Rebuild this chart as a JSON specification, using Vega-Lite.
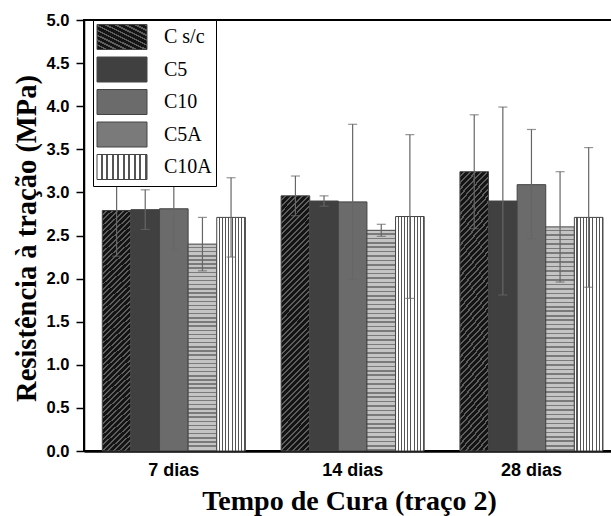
{
  "$schema": "https://vega.github.io/schema/vega-lite/v6.json",
  "width": 528,
  "height": 431,
  "autosize": {"type": "none"},
  "padding": {"left": 84, "top": 20, "right": 0, "bottom": 65},
  "background": "white",
  "config": {
    "view": {"stroke": "black", "strokeWidth": 2},
    "axis": {"grid": false}
  },
  "params": [
    {"name": "gCsc", "value": {"gradient": "linear", "x1": 0, "y1": 0, "x2": 0.124, "y2": 1.1, "stops": [
      {"offset":0,"color":"#141414"},{"offset":0.013,"color":"#141414"},{"offset":0.013,"color":"#5e5e5e"},{"offset":0.02,"color":"#5e5e5e"},
      {"offset":0.02,"color":"#141414"},{"offset":0.033,"color":"#141414"},{"offset":0.033,"color":"#5e5e5e"},{"offset":0.04,"color":"#5e5e5e"},
      {"offset":0.04,"color":"#141414"},{"offset":0.053,"color":"#141414"},{"offset":0.053,"color":"#5e5e5e"},{"offset":0.06,"color":"#5e5e5e"},
      {"offset":0.06,"color":"#141414"},{"offset":0.073,"color":"#141414"},{"offset":0.073,"color":"#5e5e5e"},{"offset":0.08,"color":"#5e5e5e"},
      {"offset":0.08,"color":"#141414"},{"offset":0.093,"color":"#141414"},{"offset":0.093,"color":"#5e5e5e"},{"offset":0.1,"color":"#5e5e5e"},
      {"offset":0.1,"color":"#141414"},{"offset":0.113,"color":"#141414"},{"offset":0.113,"color":"#5e5e5e"},{"offset":0.12,"color":"#5e5e5e"},
      {"offset":0.12,"color":"#141414"},{"offset":0.133,"color":"#141414"},{"offset":0.133,"color":"#5e5e5e"},{"offset":0.14,"color":"#5e5e5e"},
      {"offset":0.14,"color":"#141414"},{"offset":0.153,"color":"#141414"},{"offset":0.153,"color":"#5e5e5e"},{"offset":0.16,"color":"#5e5e5e"},
      {"offset":0.16,"color":"#141414"},{"offset":0.173,"color":"#141414"},{"offset":0.173,"color":"#5e5e5e"},{"offset":0.18,"color":"#5e5e5e"},
      {"offset":0.18,"color":"#141414"},{"offset":0.193,"color":"#141414"},{"offset":0.193,"color":"#5e5e5e"},{"offset":0.2,"color":"#5e5e5e"},
      {"offset":0.2,"color":"#141414"},{"offset":0.213,"color":"#141414"},{"offset":0.213,"color":"#5e5e5e"},{"offset":0.22,"color":"#5e5e5e"},
      {"offset":0.22,"color":"#141414"},{"offset":0.233,"color":"#141414"},{"offset":0.233,"color":"#5e5e5e"},{"offset":0.24,"color":"#5e5e5e"},
      {"offset":0.24,"color":"#141414"},{"offset":0.253,"color":"#141414"},{"offset":0.253,"color":"#5e5e5e"},{"offset":0.26,"color":"#5e5e5e"},
      {"offset":0.26,"color":"#141414"},{"offset":0.273,"color":"#141414"},{"offset":0.273,"color":"#5e5e5e"},{"offset":0.28,"color":"#5e5e5e"},
      {"offset":0.28,"color":"#141414"},{"offset":0.293,"color":"#141414"},{"offset":0.293,"color":"#5e5e5e"},{"offset":0.3,"color":"#5e5e5e"},
      {"offset":0.3,"color":"#141414"},{"offset":0.313,"color":"#141414"},{"offset":0.313,"color":"#5e5e5e"},{"offset":0.32,"color":"#5e5e5e"},
      {"offset":0.32,"color":"#141414"},{"offset":0.333,"color":"#141414"},{"offset":0.333,"color":"#5e5e5e"},{"offset":0.34,"color":"#5e5e5e"},
      {"offset":0.34,"color":"#141414"},{"offset":0.353,"color":"#141414"},{"offset":0.353,"color":"#5e5e5e"},{"offset":0.36,"color":"#5e5e5e"},
      {"offset":0.36,"color":"#141414"},{"offset":0.373,"color":"#141414"},{"offset":0.373,"color":"#5e5e5e"},{"offset":0.38,"color":"#5e5e5e"},
      {"offset":0.38,"color":"#141414"},{"offset":0.393,"color":"#141414"},{"offset":0.393,"color":"#5e5e5e"},{"offset":0.4,"color":"#5e5e5e"},
      {"offset":0.4,"color":"#141414"},{"offset":0.413,"color":"#141414"},{"offset":0.413,"color":"#5e5e5e"},{"offset":0.42,"color":"#5e5e5e"},
      {"offset":0.42,"color":"#141414"},{"offset":0.433,"color":"#141414"},{"offset":0.433,"color":"#5e5e5e"},{"offset":0.44,"color":"#5e5e5e"},
      {"offset":0.44,"color":"#141414"},{"offset":0.453,"color":"#141414"},{"offset":0.453,"color":"#5e5e5e"},{"offset":0.46,"color":"#5e5e5e"},
      {"offset":0.46,"color":"#141414"},{"offset":0.473,"color":"#141414"},{"offset":0.473,"color":"#5e5e5e"},{"offset":0.48,"color":"#5e5e5e"},
      {"offset":0.48,"color":"#141414"},{"offset":0.493,"color":"#141414"},{"offset":0.493,"color":"#5e5e5e"},{"offset":0.5,"color":"#5e5e5e"},
      {"offset":0.5,"color":"#141414"},{"offset":0.513,"color":"#141414"},{"offset":0.513,"color":"#5e5e5e"},{"offset":0.52,"color":"#5e5e5e"},
      {"offset":0.52,"color":"#141414"},{"offset":0.533,"color":"#141414"},{"offset":0.533,"color":"#5e5e5e"},{"offset":0.54,"color":"#5e5e5e"},
      {"offset":0.54,"color":"#141414"},{"offset":0.553,"color":"#141414"},{"offset":0.553,"color":"#5e5e5e"},{"offset":0.56,"color":"#5e5e5e"},
      {"offset":0.56,"color":"#141414"},{"offset":0.573,"color":"#141414"},{"offset":0.573,"color":"#5e5e5e"},{"offset":0.58,"color":"#5e5e5e"},
      {"offset":0.58,"color":"#141414"},{"offset":0.593,"color":"#141414"},{"offset":0.593,"color":"#5e5e5e"},{"offset":0.6,"color":"#5e5e5e"},
      {"offset":0.6,"color":"#141414"},{"offset":0.613,"color":"#141414"},{"offset":0.613,"color":"#5e5e5e"},{"offset":0.62,"color":"#5e5e5e"},
      {"offset":0.62,"color":"#141414"},{"offset":0.633,"color":"#141414"},{"offset":0.633,"color":"#5e5e5e"},{"offset":0.64,"color":"#5e5e5e"},
      {"offset":0.64,"color":"#141414"},{"offset":0.653,"color":"#141414"},{"offset":0.653,"color":"#5e5e5e"},{"offset":0.66,"color":"#5e5e5e"},
      {"offset":0.66,"color":"#141414"},{"offset":0.673,"color":"#141414"},{"offset":0.673,"color":"#5e5e5e"},{"offset":0.68,"color":"#5e5e5e"},
      {"offset":0.68,"color":"#141414"},{"offset":0.693,"color":"#141414"},{"offset":0.693,"color":"#5e5e5e"},{"offset":0.7,"color":"#5e5e5e"},
      {"offset":0.7,"color":"#141414"},{"offset":0.713,"color":"#141414"},{"offset":0.713,"color":"#5e5e5e"},{"offset":0.72,"color":"#5e5e5e"},
      {"offset":0.72,"color":"#141414"},{"offset":0.733,"color":"#141414"},{"offset":0.733,"color":"#5e5e5e"},{"offset":0.74,"color":"#5e5e5e"},
      {"offset":0.74,"color":"#141414"},{"offset":0.753,"color":"#141414"},{"offset":0.753,"color":"#5e5e5e"},{"offset":0.76,"color":"#5e5e5e"},
      {"offset":0.76,"color":"#141414"},{"offset":0.773,"color":"#141414"},{"offset":0.773,"color":"#5e5e5e"},{"offset":0.78,"color":"#5e5e5e"},
      {"offset":0.78,"color":"#141414"},{"offset":0.793,"color":"#141414"},{"offset":0.793,"color":"#5e5e5e"},{"offset":0.8,"color":"#5e5e5e"},
      {"offset":0.8,"color":"#141414"},{"offset":0.813,"color":"#141414"},{"offset":0.813,"color":"#5e5e5e"},{"offset":0.82,"color":"#5e5e5e"},
      {"offset":0.82,"color":"#141414"},{"offset":0.833,"color":"#141414"},{"offset":0.833,"color":"#5e5e5e"},{"offset":0.84,"color":"#5e5e5e"},
      {"offset":0.84,"color":"#141414"},{"offset":0.853,"color":"#141414"},{"offset":0.853,"color":"#5e5e5e"},{"offset":0.86,"color":"#5e5e5e"},
      {"offset":0.86,"color":"#141414"},{"offset":0.873,"color":"#141414"},{"offset":0.873,"color":"#5e5e5e"},{"offset":0.88,"color":"#5e5e5e"},
      {"offset":0.88,"color":"#141414"},{"offset":0.893,"color":"#141414"},{"offset":0.893,"color":"#5e5e5e"},{"offset":0.9,"color":"#5e5e5e"},
      {"offset":0.9,"color":"#141414"},{"offset":0.913,"color":"#141414"},{"offset":0.913,"color":"#5e5e5e"},{"offset":0.92,"color":"#5e5e5e"},
      {"offset":0.92,"color":"#141414"},{"offset":0.933,"color":"#141414"},{"offset":0.933,"color":"#5e5e5e"},{"offset":0.94,"color":"#5e5e5e"},
      {"offset":0.94,"color":"#141414"},{"offset":0.953,"color":"#141414"},{"offset":0.953,"color":"#5e5e5e"},{"offset":0.96,"color":"#5e5e5e"},
      {"offset":0.96,"color":"#141414"},{"offset":0.973,"color":"#141414"},{"offset":0.973,"color":"#5e5e5e"},{"offset":0.98,"color":"#5e5e5e"},
      {"offset":0.98,"color":"#141414"},{"offset":0.993,"color":"#141414"},{"offset":0.993,"color":"#5e5e5e"},{"offset":1,"color":"#5e5e5e"}
    ]}},
    {"name": "gC5A", "value": {"gradient": "linear", "x1": 0, "y1": 0, "x2": 0, "y2": 1, "stops": [
      {"offset":0,"color":"#c4c4c4"},{"offset":0.013,"color":"#c4c4c4"},{"offset":0.013,"color":"#7a7a7a"},{"offset":0.02,"color":"#7a7a7a"},
      {"offset":0.02,"color":"#c4c4c4"},{"offset":0.033,"color":"#c4c4c4"},{"offset":0.033,"color":"#7a7a7a"},{"offset":0.04,"color":"#7a7a7a"},
      {"offset":0.04,"color":"#c4c4c4"},{"offset":0.053,"color":"#c4c4c4"},{"offset":0.053,"color":"#7a7a7a"},{"offset":0.06,"color":"#7a7a7a"},
      {"offset":0.06,"color":"#c4c4c4"},{"offset":0.073,"color":"#c4c4c4"},{"offset":0.073,"color":"#7a7a7a"},{"offset":0.08,"color":"#7a7a7a"},
      {"offset":0.08,"color":"#c4c4c4"},{"offset":0.093,"color":"#c4c4c4"},{"offset":0.093,"color":"#7a7a7a"},{"offset":0.1,"color":"#7a7a7a"},
      {"offset":0.1,"color":"#c4c4c4"},{"offset":0.113,"color":"#c4c4c4"},{"offset":0.113,"color":"#7a7a7a"},{"offset":0.12,"color":"#7a7a7a"},
      {"offset":0.12,"color":"#c4c4c4"},{"offset":0.133,"color":"#c4c4c4"},{"offset":0.133,"color":"#7a7a7a"},{"offset":0.14,"color":"#7a7a7a"},
      {"offset":0.14,"color":"#c4c4c4"},{"offset":0.153,"color":"#c4c4c4"},{"offset":0.153,"color":"#7a7a7a"},{"offset":0.16,"color":"#7a7a7a"},
      {"offset":0.16,"color":"#c4c4c4"},{"offset":0.173,"color":"#c4c4c4"},{"offset":0.173,"color":"#7a7a7a"},{"offset":0.18,"color":"#7a7a7a"},
      {"offset":0.18,"color":"#c4c4c4"},{"offset":0.193,"color":"#c4c4c4"},{"offset":0.193,"color":"#7a7a7a"},{"offset":0.2,"color":"#7a7a7a"},
      {"offset":0.2,"color":"#c4c4c4"},{"offset":0.213,"color":"#c4c4c4"},{"offset":0.213,"color":"#7a7a7a"},{"offset":0.22,"color":"#7a7a7a"},
      {"offset":0.22,"color":"#c4c4c4"},{"offset":0.233,"color":"#c4c4c4"},{"offset":0.233,"color":"#7a7a7a"},{"offset":0.24,"color":"#7a7a7a"},
      {"offset":0.24,"color":"#c4c4c4"},{"offset":0.253,"color":"#c4c4c4"},{"offset":0.253,"color":"#7a7a7a"},{"offset":0.26,"color":"#7a7a7a"},
      {"offset":0.26,"color":"#c4c4c4"},{"offset":0.273,"color":"#c4c4c4"},{"offset":0.273,"color":"#7a7a7a"},{"offset":0.28,"color":"#7a7a7a"},
      {"offset":0.28,"color":"#c4c4c4"},{"offset":0.293,"color":"#c4c4c4"},{"offset":0.293,"color":"#7a7a7a"},{"offset":0.3,"color":"#7a7a7a"},
      {"offset":0.3,"color":"#c4c4c4"},{"offset":0.313,"color":"#c4c4c4"},{"offset":0.313,"color":"#7a7a7a"},{"offset":0.32,"color":"#7a7a7a"},
      {"offset":0.32,"color":"#c4c4c4"},{"offset":0.333,"color":"#c4c4c4"},{"offset":0.333,"color":"#7a7a7a"},{"offset":0.34,"color":"#7a7a7a"},
      {"offset":0.34,"color":"#c4c4c4"},{"offset":0.353,"color":"#c4c4c4"},{"offset":0.353,"color":"#7a7a7a"},{"offset":0.36,"color":"#7a7a7a"},
      {"offset":0.36,"color":"#c4c4c4"},{"offset":0.373,"color":"#c4c4c4"},{"offset":0.373,"color":"#7a7a7a"},{"offset":0.38,"color":"#7a7a7a"},
      {"offset":0.38,"color":"#c4c4c4"},{"offset":0.393,"color":"#c4c4c4"},{"offset":0.393,"color":"#7a7a7a"},{"offset":0.4,"color":"#7a7a7a"},
      {"offset":0.4,"color":"#c4c4c4"},{"offset":0.413,"color":"#c4c4c4"},{"offset":0.413,"color":"#7a7a7a"},{"offset":0.42,"color":"#7a7a7a"},
      {"offset":0.42,"color":"#c4c4c4"},{"offset":0.433,"color":"#c4c4c4"},{"offset":0.433,"color":"#7a7a7a"},{"offset":0.44,"color":"#7a7a7a"},
      {"offset":0.44,"color":"#c4c4c4"},{"offset":0.453,"color":"#c4c4c4"},{"offset":0.453,"color":"#7a7a7a"},{"offset":0.46,"color":"#7a7a7a"},
      {"offset":0.46,"color":"#c4c4c4"},{"offset":0.473,"color":"#c4c4c4"},{"offset":0.473,"color":"#7a7a7a"},{"offset":0.48,"color":"#7a7a7a"},
      {"offset":0.48,"color":"#c4c4c4"},{"offset":0.493,"color":"#c4c4c4"},{"offset":0.493,"color":"#7a7a7a"},{"offset":0.5,"color":"#7a7a7a"},
      {"offset":0.5,"color":"#c4c4c4"},{"offset":0.513,"color":"#c4c4c4"},{"offset":0.513,"color":"#7a7a7a"},{"offset":0.52,"color":"#7a7a7a"},
      {"offset":0.52,"color":"#c4c4c4"},{"offset":0.533,"color":"#c4c4c4"},{"offset":0.533,"color":"#7a7a7a"},{"offset":0.54,"color":"#7a7a7a"},
      {"offset":0.54,"color":"#c4c4c4"},{"offset":0.553,"color":"#c4c4c4"},{"offset":0.553,"color":"#7a7a7a"},{"offset":0.56,"color":"#7a7a7a"},
      {"offset":0.56,"color":"#c4c4c4"},{"offset":0.573,"color":"#c4c4c4"},{"offset":0.573,"color":"#7a7a7a"},{"offset":0.58,"color":"#7a7a7a"},
      {"offset":0.58,"color":"#c4c4c4"},{"offset":0.593,"color":"#c4c4c4"},{"offset":0.593,"color":"#7a7a7a"},{"offset":0.6,"color":"#7a7a7a"},
      {"offset":0.6,"color":"#c4c4c4"},{"offset":0.613,"color":"#c4c4c4"},{"offset":0.613,"color":"#7a7a7a"},{"offset":0.62,"color":"#7a7a7a"},
      {"offset":0.62,"color":"#c4c4c4"},{"offset":0.633,"color":"#c4c4c4"},{"offset":0.633,"color":"#7a7a7a"},{"offset":0.64,"color":"#7a7a7a"},
      {"offset":0.64,"color":"#c4c4c4"},{"offset":0.653,"color":"#c4c4c4"},{"offset":0.653,"color":"#7a7a7a"},{"offset":0.66,"color":"#7a7a7a"},
      {"offset":0.66,"color":"#c4c4c4"},{"offset":0.673,"color":"#c4c4c4"},{"offset":0.673,"color":"#7a7a7a"},{"offset":0.68,"color":"#7a7a7a"},
      {"offset":0.68,"color":"#c4c4c4"},{"offset":0.693,"color":"#c4c4c4"},{"offset":0.693,"color":"#7a7a7a"},{"offset":0.7,"color":"#7a7a7a"},
      {"offset":0.7,"color":"#c4c4c4"},{"offset":0.713,"color":"#c4c4c4"},{"offset":0.713,"color":"#7a7a7a"},{"offset":0.72,"color":"#7a7a7a"},
      {"offset":0.72,"color":"#c4c4c4"},{"offset":0.733,"color":"#c4c4c4"},{"offset":0.733,"color":"#7a7a7a"},{"offset":0.74,"color":"#7a7a7a"},
      {"offset":0.74,"color":"#c4c4c4"},{"offset":0.753,"color":"#c4c4c4"},{"offset":0.753,"color":"#7a7a7a"},{"offset":0.76,"color":"#7a7a7a"},
      {"offset":0.76,"color":"#c4c4c4"},{"offset":0.773,"color":"#c4c4c4"},{"offset":0.773,"color":"#7a7a7a"},{"offset":0.78,"color":"#7a7a7a"},
      {"offset":0.78,"color":"#c4c4c4"},{"offset":0.793,"color":"#c4c4c4"},{"offset":0.793,"color":"#7a7a7a"},{"offset":0.8,"color":"#7a7a7a"},
      {"offset":0.8,"color":"#c4c4c4"},{"offset":0.813,"color":"#c4c4c4"},{"offset":0.813,"color":"#7a7a7a"},{"offset":0.82,"color":"#7a7a7a"},
      {"offset":0.82,"color":"#c4c4c4"},{"offset":0.833,"color":"#c4c4c4"},{"offset":0.833,"color":"#7a7a7a"},{"offset":0.84,"color":"#7a7a7a"},
      {"offset":0.84,"color":"#c4c4c4"},{"offset":0.853,"color":"#c4c4c4"},{"offset":0.853,"color":"#7a7a7a"},{"offset":0.86,"color":"#7a7a7a"},
      {"offset":0.86,"color":"#c4c4c4"},{"offset":0.873,"color":"#c4c4c4"},{"offset":0.873,"color":"#7a7a7a"},{"offset":0.88,"color":"#7a7a7a"},
      {"offset":0.88,"color":"#c4c4c4"},{"offset":0.893,"color":"#c4c4c4"},{"offset":0.893,"color":"#7a7a7a"},{"offset":0.9,"color":"#7a7a7a"},
      {"offset":0.9,"color":"#c4c4c4"},{"offset":0.913,"color":"#c4c4c4"},{"offset":0.913,"color":"#7a7a7a"},{"offset":0.92,"color":"#7a7a7a"},
      {"offset":0.92,"color":"#c4c4c4"},{"offset":0.933,"color":"#c4c4c4"},{"offset":0.933,"color":"#7a7a7a"},{"offset":0.94,"color":"#7a7a7a"},
      {"offset":0.94,"color":"#c4c4c4"},{"offset":0.953,"color":"#c4c4c4"},{"offset":0.953,"color":"#7a7a7a"},{"offset":0.96,"color":"#7a7a7a"},
      {"offset":0.96,"color":"#c4c4c4"},{"offset":0.973,"color":"#c4c4c4"},{"offset":0.973,"color":"#7a7a7a"},{"offset":0.98,"color":"#7a7a7a"},
      {"offset":0.98,"color":"#c4c4c4"},{"offset":0.993,"color":"#c4c4c4"},{"offset":0.993,"color":"#7a7a7a"},{"offset":1,"color":"#7a7a7a"}
    ]}},
    {"name": "gC10A", "value": {"gradient": "linear", "x1": 0, "y1": 0, "x2": 1, "y2": 0, "stops": [
      {"offset":0,"color":"#ffffff"},{"offset":0.072,"color":"#ffffff"},{"offset":0.072,"color":"#555555"},{"offset":0.111,"color":"#555555"},
      {"offset":0.111,"color":"#ffffff"},{"offset":0.183,"color":"#ffffff"},{"offset":0.183,"color":"#555555"},{"offset":0.222,"color":"#555555"},
      {"offset":0.222,"color":"#ffffff"},{"offset":0.294,"color":"#ffffff"},{"offset":0.294,"color":"#555555"},{"offset":0.333,"color":"#555555"},
      {"offset":0.333,"color":"#ffffff"},{"offset":0.406,"color":"#ffffff"},{"offset":0.406,"color":"#555555"},{"offset":0.444,"color":"#555555"},
      {"offset":0.444,"color":"#ffffff"},{"offset":0.517,"color":"#ffffff"},{"offset":0.517,"color":"#555555"},{"offset":0.556,"color":"#555555"},
      {"offset":0.556,"color":"#ffffff"},{"offset":0.628,"color":"#ffffff"},{"offset":0.628,"color":"#555555"},{"offset":0.667,"color":"#555555"},
      {"offset":0.667,"color":"#ffffff"},{"offset":0.739,"color":"#ffffff"},{"offset":0.739,"color":"#555555"},{"offset":0.778,"color":"#555555"},
      {"offset":0.778,"color":"#ffffff"},{"offset":0.85,"color":"#ffffff"},{"offset":0.85,"color":"#555555"},{"offset":0.889,"color":"#555555"},
      {"offset":0.889,"color":"#ffffff"},{"offset":0.961,"color":"#ffffff"},{"offset":0.961,"color":"#555555"},{"offset":1,"color":"#555555"}
    ]}}
  ],
  "data": {
    "values": [
      {"dia": "7 dias", "serie": "C s/c", "v": 2.79, "lo": 2.26, "hi": 3.33},
      {"dia": "7 dias", "serie": "C5", "v": 2.80, "lo": 2.57, "hi": 3.03},
      {"dia": "7 dias", "serie": "C10", "v": 2.81, "lo": 2.34, "hi": 3.28},
      {"dia": "7 dias", "serie": "C5A", "v": 2.40, "lo": 2.09, "hi": 2.71},
      {"dia": "7 dias", "serie": "C10A", "v": 2.71, "lo": 2.25, "hi": 3.17},
      {"dia": "14 dias", "serie": "C s/c", "v": 2.96, "lo": 2.73, "hi": 3.19},
      {"dia": "14 dias", "serie": "C5", "v": 2.90, "lo": 2.84, "hi": 2.96},
      {"dia": "14 dias", "serie": "C10", "v": 2.89, "lo": 1.99, "hi": 3.79},
      {"dia": "14 dias", "serie": "C5A", "v": 2.56, "lo": 2.49, "hi": 2.63},
      {"dia": "14 dias", "serie": "C10A", "v": 2.72, "lo": 1.77, "hi": 3.67},
      {"dia": "28 dias", "serie": "C s/c", "v": 3.24, "lo": 2.58, "hi": 3.90},
      {"dia": "28 dias", "serie": "C5", "v": 2.90, "lo": 1.81, "hi": 3.99},
      {"dia": "28 dias", "serie": "C10", "v": 3.09, "lo": 2.46, "hi": 3.73},
      {"dia": "28 dias", "serie": "C5A", "v": 2.60, "lo": 1.96, "hi": 3.24},
      {"dia": "28 dias", "serie": "C10A", "v": 2.71, "lo": 1.90, "hi": 3.52}
    ]
  },
  "encoding": {
    "x": {
      "field": "dia", "type": "nominal", "sort": ["7 dias", "14 dias", "28 dias"],
      "scale": {"paddingInner": 0.2, "paddingOuter": 0.0764, "align": 0.67},
      "axis": {
        "title": "Tempo de Cura (traço 2)",
        "titleFont": "Liberation Serif", "titleFontSize": 28, "titleFontWeight": "bold", "titleColor": "black",
        "titleX": 265, "titleY": 58, "titleAlign": "center", "titleBaseline": "alphabetic",
        "labelAngle": 0, "labelFont": "Liberation Sans", "labelFontWeight": "bold", "labelFontSize": 18, "labelColor": "black",
        "labelBaseline": "alphabetic", "labelPadding": 24,
        "ticks": false, "tickSize": 0,
        "domainColor": "black", "domainWidth": 2.5
      }
    },
    "xOffset": {"field": "serie", "type": "nominal", "sort": ["C s/c", "C5", "C10", "C5A", "C10A"], "scale": {"paddingInner": 0, "paddingOuter": 0}}
  },
  "layer": [
    {
      "mark": {"type": "bar", "stroke": "#444444", "strokeWidth": 1},
      "encoding": {
        "y": {
          "field": "v", "type": "quantitative",
          "scale": {"domain": [0, 5], "nice": false},
          "axis": {
            "title": "Resistência à tração (MPa)",
            "titleFont": "Liberation Serif", "titleFontSize": 28.5, "titleFontWeight": "bold", "titleColor": "black",
            "titleAngle": -90, "titleX": -49, "titleY": 218, "titleAlign": "center", "titleBaseline": "alphabetic",
            "values": [0, 0.25, 0.5, 0.75, 1, 1.25, 1.5, 1.75, 2, 2.25, 2.5, 2.75, 3, 3.25, 3.5, 3.75, 4, 4.25, 4.5, 4.75, 5],
            "labelExpr": "round(datum.value*4)%2==0 ? format(datum.value, '.1f') : ''",
            "labelFont": "Liberation Sans", "labelFontWeight": "bold", "labelFontSize": 16.5, "labelColor": "black",
            "labelPadding": 7,
            "tickColor": "black", "tickWidth": 1.5,
            "tickSize": {"condition": {"test": "round(datum.value*4)%2==0", "value": 8}, "value": 4},
            "domainColor": "black", "domainWidth": 1.5
          }
        },
        "fill": {
          "field": "serie", "type": "nominal",
          "scale": {
            "domain": ["C s/c", "C5", "C10", "C5A", "C10A"],
            "range": [{"expr": "gCsc"}, "#404040", "#6b6b6b", {"expr": "gC5A"}, {"expr": "gC10A"}]
          },
          "legend": {
            "orient": "none", "legendX": 9, "legendY": 0, "title": null,
            "symbolType": "M-2,-1H2V1H-2Z", "symbolSize": 625,
            "symbolStrokeColor": "#444444", "symbolStrokeWidth": 1, "symbolOpacity": 1,
            "symbolOffset": 12, "labelOffset": 29,
            "labelFont": "Liberation Serif", "labelFontSize": 20, "labelColor": "black", "labelLimit": 0,
            "rowPadding": 2.5, "padding": 4,
            "strokeColor": "black", "fillColor": "white"
          }
        }
      }
    },
    {
      "mark": {"type": "rule", "color": "#666666", "strokeWidth": 1.2},
      "encoding": {
        "y": {"field": "lo", "type": "quantitative", "title": "Resistência à tração (MPa)"},
        "y2": {"field": "hi"}
      }
    },
    {
      "mark": {"type": "tick", "color": "#666666", "thickness": 1.2, "size": 9},
      "encoding": {"y": {"field": "hi", "type": "quantitative", "title": "Resistência à tração (MPa)"}}
    },
    {
      "mark": {"type": "tick", "color": "#666666", "thickness": 1.2, "size": 9},
      "encoding": {"y": {"field": "lo", "type": "quantitative", "title": "Resistência à tração (MPa)"}}
    }
  ]
}
